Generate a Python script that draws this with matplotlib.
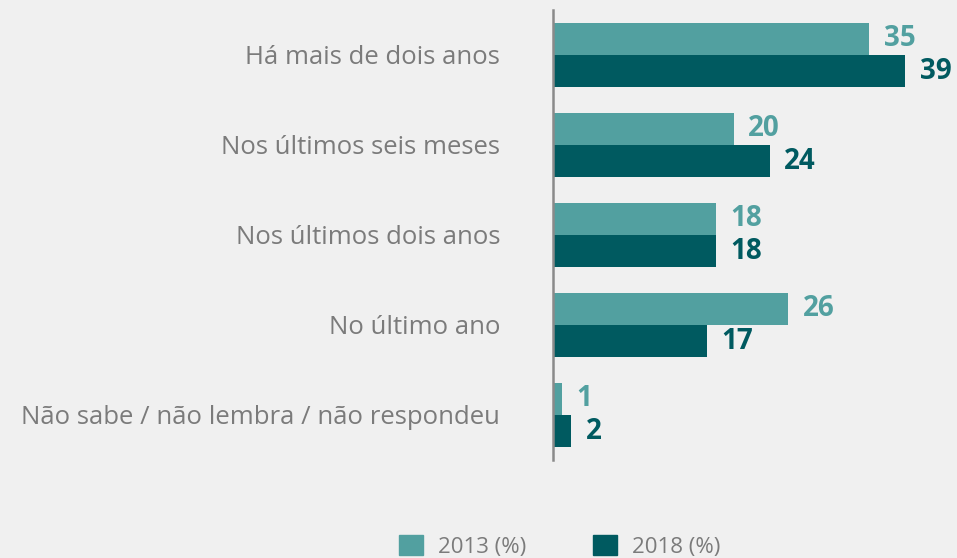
import numpy as np
from matplotlib import pyplot as plt
from matplotlib.patches import Patch

# data
categories = ['Há mais de dois anos', 'Nos últimos seis meses', 'Nos últimos dois anos',
              'No último ano', 'Não sabe / não lembra / não respondeu']
v2013 = [35, 20, 18, 26, 1]
v2018 = [39, 24, 18, 17, 2]
series_names = ['2013 (%)', '2018 (%)']

c2013 = '#52a0a0'
c2018 = '#005a60'
grey = '#7b7b7b'
bg = '#f0f0f0'

plt.rcParams['font.family'] = ['Open Sans', 'DejaVu Sans']

fig = plt.figure(figsize=(9.57, 5.58), dpi=100, facecolor=bg)
ax = fig.add_axes([553/957, 1-460/558, 404/957, 450/558])
ax.set_facecolor(bg)

y = np.arange(len(categories))
h = 0.36
ax.barh(y - h/2, v2013, height=h, color=c2013)
ax.barh(y + h/2, v2018, height=h, color=c2018)

for yi, a, b in zip(y, v2013, v2018):
    ax.text(a + 1.6, yi - h/2, str(a), color=c2013, fontsize=20, fontweight='bold',
            va='center', ha='left')
    ax.text(b + 1.6, yi + h/2, str(b), color=c2018, fontsize=20, fontweight='bold',
            va='center', ha='left')

ax.set_xlim(0, 44.7)
ax.set_ylim(4.5, -0.5)
ax.set_yticks(y)
ax.set_yticklabels(categories, fontsize=18.5, color=grey)
ax.tick_params(axis='y', length=0, pad=38)
ax.set_xticks([])
for s in ['top', 'right', 'bottom']:
    ax.spines[s].set_visible(False)
ax.spines['left'].set_color('#8a8a8a')
ax.spines['left'].set_linewidth(1.8)

handles = [Patch(color=c2013), Patch(color=c2018)]
fig.legend(handles, series_names, loc='lower center', bbox_to_anchor=(560/957, -0.035),
           ncol=2, frameon=False, fontsize=16, labelcolor=grey,
           handlelength=1.05, handleheight=1.05, columnspacing=3.0, handletextpad=0.7)

fig.savefig('out.png', dpi=100, facecolor=bg)
plt.close()
